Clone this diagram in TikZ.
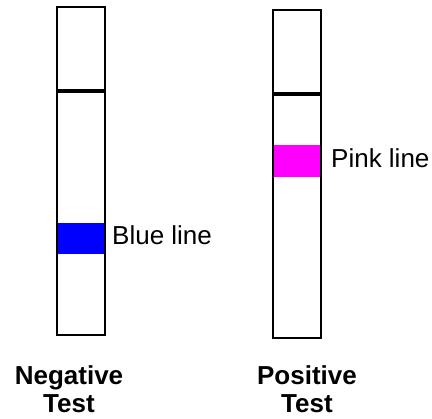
\documentclass[tikz,border=0pt]{standalone}
\usepackage{fontspec}
\setmainfont{Liberation Sans}
\definecolor{pinkband}{RGB}{255,0,255}
\definecolor{blueband}{RGB}{0,0,255}
\begin{document}
\begin{tikzpicture}[x=1pt,y=-1pt,
  strip/.style={draw=black,line width=2pt,fill=none,anchor=north west,inner sep=0pt,minimum width=48pt,minimum height=#1},
  band/.style={fill=#1,draw=none,anchor=north west,inner sep=0pt,minimum width=48pt,outer sep=0pt},
  lbl/.style={inner sep=0pt,anchor=base west,font=\fontsize{26}{29}\selectfont},
  testcap/.style={inner sep=0pt,anchor=base,align=center,font=\fontsize{26}{28}\selectfont\bfseries}]
\useasboundingbox (0,0) rectangle (432,419);
% negative strip
\node[band=blueband,minimum height=31pt] (nb) at (56,223) {};
\node[band=black,minimum height=4pt] (nk) at (56,89) {};
\node[strip=328pt] (ns) at (56,6) {};
% positive strip
\node[band=pinkband,minimum height=32pt] (pb) at (272,145) {};
\node[band=black,minimum height=4pt] (pk) at (272,92) {};
\node[strip=328pt] (ps) at (272,9) {};
% labels
\node[lbl] (nl) at (112,245) {Blue line};
\node[lbl] (pl) at (331,168) {Pink line};
\node[testcap] (nc) at (69,413) {Negative\\Test};
\node[testcap] (pc) at (307,413) {Positive\\Test};
\end{tikzpicture}
\end{document}
